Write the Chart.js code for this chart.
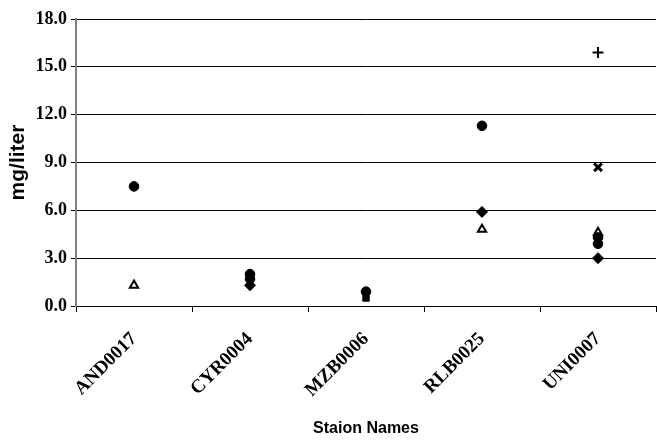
<!DOCTYPE html>
<html>
<head>
<meta charset="utf-8">
<script src="https://cdn.jsdelivr.net/npm/chart.js@4/dist/chart.umd.min.js"></script>
<style>
  body { margin: 0; background: #fff; }
  #wrap { width: 657px; height: 443px; }
</style>
</head>
<body>
<div id="wrap"><canvas id="stationChart" width="657" height="443"></canvas></div>
<script>
// Station names (x categories)
const stations = ["AND0017", "CYR0004", "MZB0006", "RLB0025", "UNI0007"];

// y axis ticks
const yTicks = [0, 3, 6, 9, 12, 15, 18];

// Values per marker series, mg/liter (null = no point)
const circleA = [7.5, 2.0, 0.9, 11.3, 4.3];
const circleB = [null, 1.7, null, null, 3.9];
const squareVals = [null, null, 0.5, null, null];
const diamondVals = [null, 1.3, null, 5.9, 3.0];
const triangleVals = [1.3, null, null, 4.8, 4.6];
const crossVals = [null, null, null, null, 8.7];
const plusVals = [null, null, null, null, 15.9];

const ctx = document.getElementById("stationChart").getContext("2d");

function markerSet(label, data, style, radius, fill, border) {
  return {
    label: label,
    data: data,
    showLine: false,
    pointStyle: style,
    pointRadius: radius,
    pointHoverRadius: radius,
    pointBackgroundColor: fill,
    pointBorderColor: "#000",
    pointBorderWidth: border,
  };
}

const stationChart = new Chart(ctx, {
  type: "line",
  data: {
    labels: stations,
    datasets: [
      // first dataset is drawn on top
      markerSet("Circle A", circleA, "circle", 4.8, "#000", 1),
      markerSet("Circle B", circleB, "circle", 4.8, "#000", 1),
      markerSet("Square", squareVals, "rect", 4.5, "#000", 1),
      markerSet("Diamond", diamondVals, "rectRot", 5.5, "#000", 1),
      markerSet("Triangle", triangleVals, "triangle", 4.8, "#fff", 2),
      markerSet("Cross", crossVals, "crossRot", 5.5, "#000", 3),
      markerSet("Plus", plusVals, "cross", 5.5, "#000", 2),
    ],
  },
  options: {
    responsive: false,
    animation: false,
    layout: {
      autoPadding: false,
      padding: { top: 19, right: 1, left: 0, bottom: 0 },
    },
    plugins: {
      legend: { display: false },
      tooltip: { enabled: false },
    },
    scales: {
      x: {
        type: "category",
        offset: true,
        afterFit: (scale) => {
          scale.height = 137;
          scale.paddingLeft = 0;
          scale.paddingRight = 0;
        },
        grid: {
          offset: true,
          drawOnChartArea: false,
          tickLength: 6,
          color: "#000",
        },
        border: { color: "#000", width: 1 },
        ticks: {
          color: "#000",
          maxRotation: 45,
          minRotation: 45,
          padding: 16,
          font: { family: "Liberation Serif", weight: "bold", size: 19 },
        },
        title: {
          display: true,
          text: "Staion Names",
          color: "#000",
          padding: { top: 0, bottom: 5 },
          font: { family: "Liberation Sans", weight: "bold", size: 16 },
        },
      },
      y: {
        min: 0,
        max: 18,
        afterFit: (scale) => { scale.width = 76; },
        afterBuildTicks: (scale) => {
          scale.ticks = yTicks.map((v) => ({ value: v }));
        },
        grid: {
          color: "#000",
          lineWidth: 1,
          tickLength: 5,
        },
        border: { color: "#808080", width: 2 },
        ticks: {
          color: "#000",
          padding: 4,
          callback: (v) => Number(v).toFixed(1),
          font: { family: "Liberation Serif", weight: "bold", size: 18 },
        },
        title: {
          display: true,
          text: "mg/liter",
          color: "#000",
          padding: { top: 6, bottom: 0 },
          font: { family: "Liberation Sans", weight: "bold", size: 21 },
        },
      },
    },
  },
});
</script>
</body>
</html>
